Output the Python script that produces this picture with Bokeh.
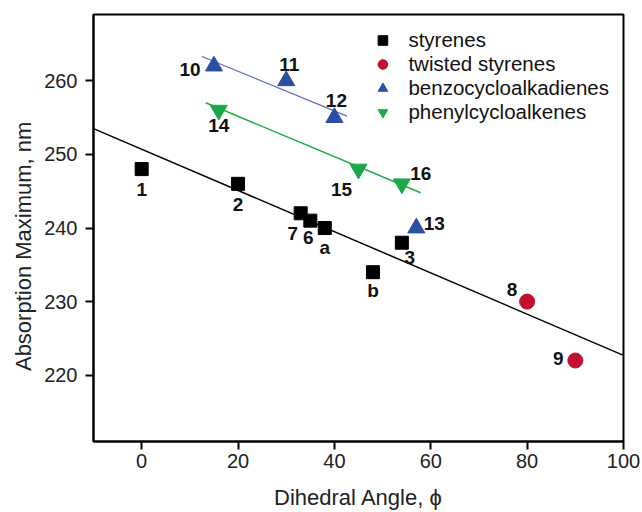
from bokeh.plotting import figure
from bokeh.models import ColumnDataSource, Range1d, FixedTicker, Legend, LegendItem
from bokeh.core.properties import value
from bokeh.embed import file_html
from bokeh.resources import INLINE

# ---- data ----
sty_x = [0, 20, 33, 35, 38, 48, 54]
sty_y = [248, 246, 242, 241, 240, 234, 238]
sty_lab = ["1", "2", "7", "6", "a", "b", "3"]

tw_x = [80, 90]
tw_y = [230, 222]
tw_lab = ["8", "9"]

bz_x = [15, 30, 40, 57]
bz_y = [262, 260, 255, 240]
bz_lab = ["10", "11", "12", "13"]

ph_x = [16, 45, 54]
ph_y = [256, 248, 246]
ph_lab = ["14", "15", "16"]

fit_sty_x = [-10, 100]
fit_sty_y = [253.5, 222.7]
fit_bz_x = [12.5, 42.6]
fit_bz_y = [263.3, 255.2]
fit_ph_x = [13.3, 57.9]
fit_ph_y = [257.0, 244.8]

x_ticks = [0, 20, 40, 60, 80, 100]
y_ticks = [220, 230, 240, 250, 260]

# label placement (screen px, down positive)
lab_off = {
    "1": (0, 20), "2": (0, 21), "7": (-8, 20), "6": (-2, 17), "a": (0, 19),
    "b": (0, 18), "3": (8, 15), "8": (-15, -12), "9": (-17, -2),
    "10": (-24, 3), "11": (3, -16), "12": (2, -17), "13": (18, -5),
    "14": (0, 15), "15": (-17, 20), "16": (19, -10),
}

FONT = "Liberation Sans"
BLACK = "#000000"
RED = "#c3102f"
BLUE = "#2c4fa3"
GREEN = "#1ba84a"

p = figure(width=642, height=512, output_backend="svg", toolbar_location=None,
           x_range=Range1d(-10, 100), y_range=Range1d(211, 269),
           min_border_left=93, min_border_right=19, min_border_top=14,
           min_border_bottom=70)
p.xgrid.visible = False
p.ygrid.visible = False
p.outline_line_color = "black"
p.outline_line_width = 2

# fit lines
p.line(fit_sty_x, fit_sty_y, line_color="black", line_width=1.5)
p.line(fit_bz_x, fit_bz_y, line_color="#5a6cc8", line_width=1.2)
p.line(fit_ph_x, fit_ph_y, line_color="#22ad4a", line_width=1.6)

r1 = p.scatter(sty_x, sty_y, marker="square", size=13, fill_color=BLACK, line_color=BLACK)
r2 = p.scatter(tw_x, tw_y, marker="circle", size=15, fill_color=RED, line_color=RED)
r3 = p.scatter(bz_x, bz_y, marker="triangle", size=17, fill_color=BLUE, line_color=BLUE)
r4 = p.scatter(ph_x, ph_y, marker="inverted_triangle", size=17, fill_color=GREEN, line_color=GREEN)

# point labels
all_x = sty_x + tw_x + bz_x + ph_x
all_y = sty_y + tw_y + bz_y + ph_y
all_lab = sty_lab + tw_lab + bz_lab + ph_lab
src = ColumnDataSource(dict(
    x=all_x, y=all_y, t=all_lab,
    dx=[lab_off[l][0] for l in all_lab],
    dy=[lab_off[l][1] for l in all_lab],
))
p.text(x="x", y="y", text="t", x_offset="dx", y_offset="dy", source=src,
       text_font=value(FONT), text_font_style="bold", text_font_size="19px",
       text_align="center", text_baseline="middle", text_color="#111111")

legend = Legend(items=[
    LegendItem(label="styrenes", renderers=[r1]),
    LegendItem(label="twisted styrenes", renderers=[r2]),
    LegendItem(label="benzocycloalkadienes", renderers=[r3]),
    LegendItem(label="phenylcycloalkenes", renderers=[r4]),
], location="top_right")
legend.border_line_color = None
legend.background_fill_alpha = 0
legend.label_text_font = FONT
legend.label_text_font_size = "20.5px"
legend.label_text_color = "#111111"
legend.glyph_width = 30
legend.glyph_height = 24
legend.label_height = 22
legend.label_standoff = 11
legend.spacing = 0
legend.padding = 0
legend.margin = 14
p.add_layout(legend)

for ax in (p.xaxis, p.yaxis):
    ax.axis_line_color = "black"
    ax.axis_line_width = 2
    ax.major_tick_line_width = 2
    ax.major_tick_in = 0
    ax.major_tick_out = 8
    ax.minor_tick_line_color = None
    ax.major_label_text_font = FONT
    ax.major_label_text_font_size = "20px"
    ax.major_label_text_color = "#222222"
    ax.axis_label_text_font = FONT
    ax.axis_label_text_font_size = "22px"
    ax.axis_label_text_font_style = "normal"
    ax.axis_label_text_color = "#222222"

p.xaxis.ticker = FixedTicker(ticks=x_ticks)
p.yaxis.ticker = FixedTicker(ticks=y_ticks)
p.xaxis.axis_label = "Dihedral Angle, \u03d5"
# trailing no-break spaces shift the visible label down along the axis
p.yaxis.axis_label = "Absorption Maximum, nm" + "\u00a0" * 6
p.xaxis.major_label_standoff = 4
p.yaxis.major_label_standoff = 8
p.xaxis.axis_label_standoff = 14
p.yaxis.axis_label_standoff = 5

open("out.html", "w").write(file_html(p, INLINE))
